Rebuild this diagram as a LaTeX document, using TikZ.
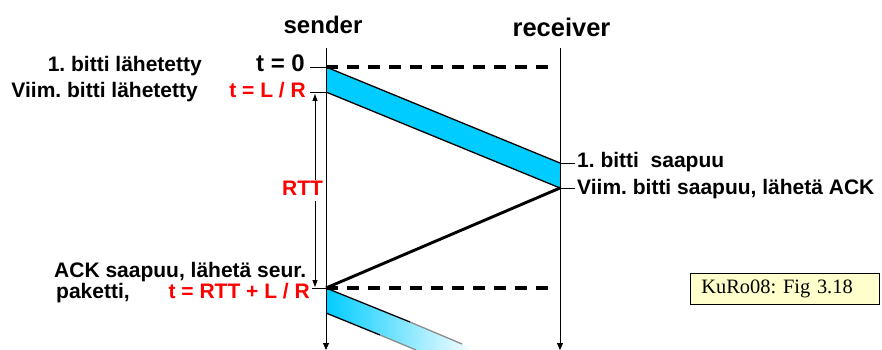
\documentclass[tikz,border=0pt]{standalone}
\usepackage{fontspec}
\setmainfont{Liberation Sans}
\newfontfamily\serifbox{Liberation Serif}
\usetikzlibrary{arrows.meta}
\definecolor{bandcyan}{RGB}{0,204,255}
\definecolor{boxyellow}{RGB}{255,255,204}
\frenchspacing
\begin{document}
\begin{tikzpicture}[x=1pt,y=-1pt,
  lbl/.style={font=\fontsize{21}{24}\selectfont\bfseries, inner sep=0pt},
  redlbl/.style={lbl, text=red},
  head/.style={font=\fontsize{24}{28}\selectfont\bfseries, inner sep=0pt},
  life/.style={line width=0.9pt, -{Triangle[length=7pt,width=6pt]}},
  rttarrow/.style={line width=0.8pt, -{Triangle[length=7pt,width=5pt]}},
  tickline/.style={line width=0.9pt},
  bandedge/.style={line width=1.3pt},
  dashline/.style={line width=3.2pt, dash pattern=on 12pt off 9pt},
  ackline/.style={line width=2.9pt},
]
\useasboundingbox (0,0) rectangle (882,350);

% coordinates
\coordinate (sTop) at (326,48);
\coordinate (sBot) at (326,350);
\coordinate (rTop) at (560,48);
\coordinate (rBot) at (560,350);
\coordinate (s0) at (326,67);
\coordinate (sLR) at (326,92);
\coordinate (rFirst) at (560,163);
\coordinate (rLast) at (560,188);
\coordinate (sAck) at (326,288);
\coordinate (sNext) at (326,313);
\coordinate (d0end) at (550,67);
\coordinate (d1end) at (550,288);
\coordinate (t0tick) at (310,67);
\coordinate (tLRtick) at (310,92);
\coordinate (tAtick) at (312,288);
\coordinate (rFtick) at (575,163);
\coordinate (rLtick) at (575,188);
\coordinate (nTopEnd) at (462,344);
\coordinate (nTopMid) at (410,322);
\coordinate (nBotEnd) at (416,350);
\coordinate (nBotMid) at (380,335);
\coordinate (rttUpA) at (315,180);
\coordinate (rttUpB) at (315,94);
\coordinate (rttDnA) at (315,201);
\coordinate (rttDnB) at (315,287);

% first packet band
\fill[bandcyan] (s0) -- (rFirst) -- (rLast) -- (sLR) -- cycle;
\draw[bandedge] (s0) -- (rFirst);
\draw[bandedge] (sLR) -- (rLast);

% next packet band (fading)
\begin{scope}
\clip (0,0) rectangle (882,350);
\shade[left color=bandcyan, right color=white] (sAck) -- (nTopEnd) -- (476,352) -- (nBotEnd) -- (sNext) -- cycle;
\draw[bandedge] (sAck) -- (nTopMid);
\draw[bandedge, black!45] (nTopMid) -- (nTopEnd);
\draw[bandedge] (sNext) -- (nBotMid);
\draw[bandedge, black!45] (nBotMid) -- (nBotEnd);
\end{scope}

% ACK
\draw[ackline] (rLast) -- (sAck);

% dashed time lines
\draw[dashline] (s0) -- (d0end);
\draw[dashline] (sAck) -- (d1end);

% lifelines
\draw[life] (sTop) -- (sBot);
\draw[life] (rTop) -- (rBot);

% ticks
\draw[tickline] (t0tick) -- (s0);
\draw[tickline] (tLRtick) -- (sLR);
\draw[tickline] (tAtick) -- (sAck);
\draw[tickline] (rFirst) -- (rFtick);
\draw[tickline] (rLast) -- (rLtick);

% RTT arrows
\draw[rttarrow] (rttUpA) -- (rttUpB);
\draw[rttarrow] (rttDnA) -- (rttDnB);

% headings
\node[head, anchor=base] (sender) at (323,34) {sender};
\node[head, font=\fontsize{25.5}{30}\selectfont\bfseries, anchor=base] (receiver) at (561.5,37) {receiver};

% left labels
\node[lbl, anchor=base east] (l1) at (202,72) {1. bitti lähetetty};
\node[head, anchor=base east] (t0) at (305,72) {t = 0};
\node[lbl, anchor=base east] (l2) at (198,98) {Viim. bitti lähetetty};
\node[redlbl, anchor=base east] (tLR) at (306,98) {t = L / R};
\node[redlbl, anchor=base] (rtt) at (302.5,195) {RTT};
\node[lbl, anchor=base west] (ack1) at (54,277) {ACK saapuu, lähetä seur.};
\node[lbl, anchor=base west] (ack2) at (56,298) {paketti,};
\node[redlbl, anchor=base east] (tA) at (310,298) {t = RTT + L / R};

% right labels
\node[lbl, anchor=base west] (r1) at (577,167) {1. bitti\ \ saapuu};
\node[lbl, anchor=base west] (r2) at (577,194) {Viim. bitti saapuu, lähetä ACK};

% reference box
\node[draw=black, fill=boxyellow, line width=0.8pt, anchor=north west,
      minimum height=31pt, text width=167pt, inner xsep=11pt, inner ysep=0pt,
      align=left, font=\serifbox\fontsize{20.4}{22}\selectfont] (ref) at (690,273) {KuRo08: Fig 3.18};
\end{tikzpicture}
\end{document}
